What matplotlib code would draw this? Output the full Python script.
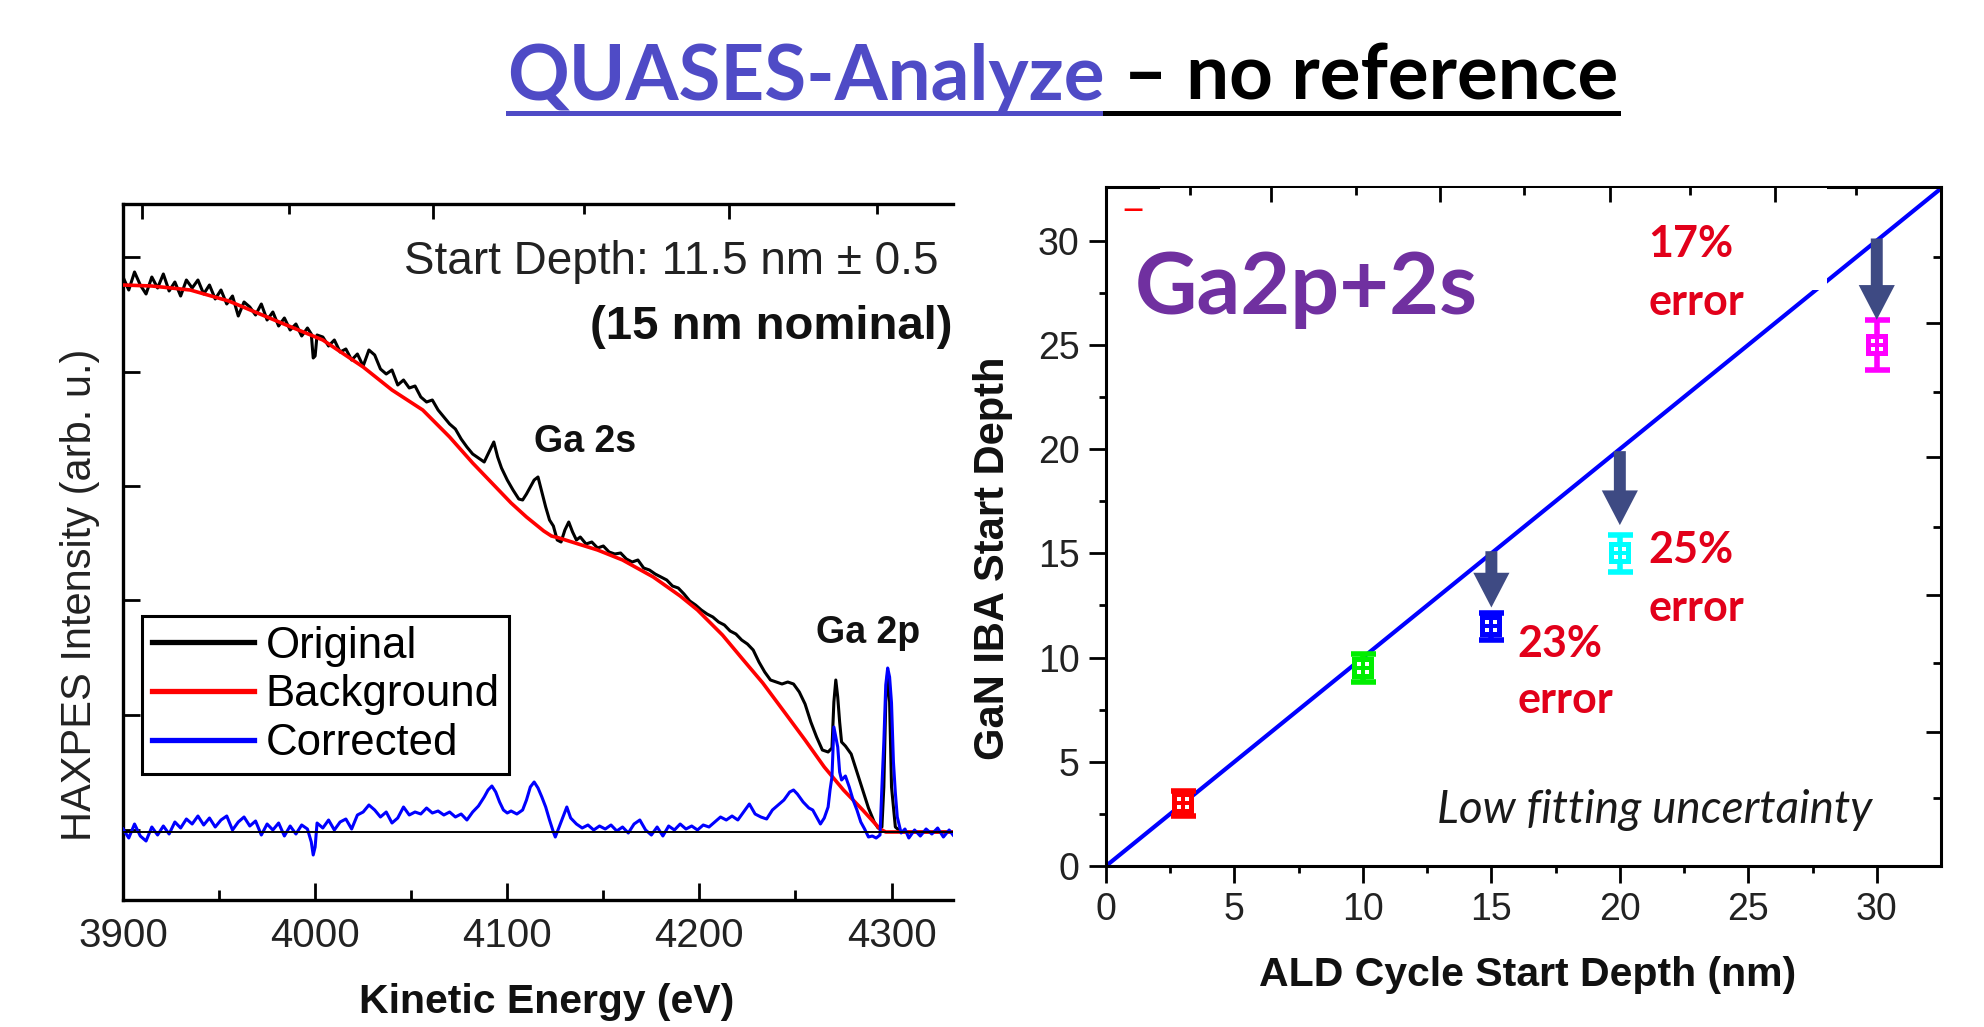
import matplotlib
matplotlib.use('Agg')
import matplotlib.pyplot as plt
from matplotlib.lines import Line2D
from matplotlib.patches import Rectangle, FancyArrowPatch, ArrowStyle
from matplotlib.path import Path
from matplotlib.transforms import Affine2D

SANS = ['Liberation Sans', 'DejaVu Sans']
SLIDE = ['Lato', 'DejaVu Sans']

# ---- left panel: HAXPES spectrum (arb. units, baseline = 0) ----
bg_energy = [3900, 3915, 3935, 3955, 3970, 3985, 4004, 4025, 4040, 4056, 4070, 4082, 4095,
             4102, 4110, 4119, 4123, 4127, 4137, 4147, 4160, 4176, 4190, 4199, 4212, 4222,
             4233, 4245, 4255, 4265, 4275, 4285, 4294, 4297, 4332]
bg_counts = [5.47, 5.46, 5.42, 5.31, 5.19, 5.07, 4.92, 4.65, 4.42, 4.22, 3.95, 3.69, 3.43,
             3.29, 3.15, 3.01, 2.96, 2.94, 2.88, 2.82, 2.72, 2.55, 2.36, 2.22, 1.97, 1.74,
             1.49, 1.18, 0.92, 0.65, 0.42, 0.22, 0.03, 0.0, 0.0]

orig_energy = [3900, 3903, 3906, 3909, 3912, 3915, 3918, 3921, 3924, 3927, 3930, 3933, 3936,
               3939, 3942, 3945, 3948, 3951, 3954, 3957, 3960, 3963, 3966, 3969, 3972, 3975,
               3978, 3981, 3984, 3987, 3990, 3993, 3996, 3998, 3999, 4000, 4001, 4004, 4007,
               4010, 4013, 4016, 4019, 4022, 4025, 4028, 4031, 4034, 4037, 4040, 4043, 4046,
               4049, 4052, 4055, 4058, 4061, 4064, 4067, 4070, 4073, 4076, 4079, 4082, 4085,
               4088, 4090, 4092, 4093, 4095, 4097, 4100, 4103, 4106, 4108, 4110, 4112, 4114,
               4116, 4118, 4120, 4122, 4124, 4126, 4128, 4130, 4132, 4134, 4136, 4138, 4141,
               4144, 4147, 4150, 4153, 4156, 4159, 4162, 4165, 4168, 4171, 4174, 4177, 4180,
               4183, 4186, 4189, 4192, 4195, 4198, 4201, 4204, 4207, 4210, 4213, 4216, 4219,
               4222, 4225, 4228, 4231, 4234, 4237, 4240, 4243, 4246, 4249, 4252, 4255, 4258,
               4261, 4264, 4267, 4269, 4270, 4271, 4272, 4273, 4274, 4276, 4279, 4282, 4285,
               4288, 4291, 4293, 4295, 4296, 4297, 4298, 4299, 4300, 4302, 4305, 4332]
orig_counts = [5.55, 5.42, 5.60, 5.47, 5.38, 5.55, 5.44, 5.58, 5.41, 5.50, 5.36, 5.52, 5.44,
               5.52, 5.38, 5.47, 5.33, 5.42, 5.28, 5.36, 5.16, 5.30, 5.25, 5.17, 5.28, 5.12,
               5.20, 5.06, 5.14, 5.02, 5.08, 4.96, 5.04, 4.98, 4.74, 4.76, 4.97, 4.95, 4.86,
               4.92, 4.80, 4.83, 4.72, 4.78, 4.66, 4.82, 4.77, 4.63, 4.58, 4.62, 4.47, 4.52,
               4.44, 4.46, 4.35, 4.30, 4.32, 4.22, 4.15, 4.08, 4.03, 3.93, 3.85, 3.78, 3.74,
               3.70, 3.78, 3.86, 3.90, 3.75, 3.64, 3.52, 3.42, 3.33, 3.32, 3.38, 3.45, 3.52,
               3.55, 3.40, 3.25, 3.12, 3.06, 2.92, 2.90, 3.02, 3.10, 3.00, 2.92, 2.95, 2.88,
               2.90, 2.84, 2.86, 2.80, 2.78, 2.79, 2.73, 2.70, 2.72, 2.64, 2.62, 2.58, 2.55,
               2.52, 2.46, 2.44, 2.38, 2.31, 2.27, 2.22, 2.18, 2.15, 2.10, 2.07, 2.01, 1.98,
               1.92, 1.88, 1.82, 1.70, 1.60, 1.52, 1.50, 1.48, 1.50, 1.48, 1.40, 1.28, 1.10,
               0.95, 0.82, 0.80, 0.84, 1.30, 1.52, 1.35, 1.10, 0.90, 0.86, 0.78, 0.60, 0.42,
               0.24, 0.10, 0.04, 0.05, 0.45, 1.30, 1.60, 1.30, 0.45, 0.05, 0.0, 0.0]

corr_energy = [3900, 3903, 3906, 3909, 3912, 3915, 3918, 3921, 3924, 3927, 3930, 3933, 3936,
               3939, 3942, 3945, 3948, 3951, 3954, 3957, 3960, 3963, 3966, 3969, 3972, 3975,
               3978, 3981, 3984, 3987, 3990, 3993, 3996, 3998, 3999, 4000, 4001, 4004, 4007,
               4010, 4013, 4016, 4019, 4022, 4025, 4028, 4031, 4034, 4037, 4040, 4043, 4046,
               4049, 4052, 4055, 4058, 4061, 4064, 4067, 4070, 4073, 4076, 4079, 4082, 4085,
               4088, 4090, 4092, 4094, 4096, 4098, 4100, 4102, 4105, 4108, 4110, 4112, 4114,
               4116, 4118, 4120, 4122, 4124, 4125, 4127, 4129, 4131, 4133, 4136, 4139, 4142,
               4145, 4148, 4151, 4154, 4157, 4160, 4163, 4166, 4169, 4172, 4175, 4178, 4181,
               4184, 4187, 4190, 4193, 4196, 4199, 4202, 4205, 4208, 4211, 4214, 4217, 4220,
               4223, 4226, 4229, 4232, 4235, 4238, 4241, 4244, 4247, 4249, 4251, 4254, 4257,
               4259, 4261, 4263, 4265, 4267, 4268, 4269, 4270, 4271, 4272, 4273, 4274, 4276,
               4278, 4280, 4282, 4284, 4286, 4288, 4290, 4292, 4294, 4295, 4296, 4297, 4298,
               4299, 4300, 4301, 4302, 4303, 4305, 4307, 4309, 4312, 4315, 4318, 4321, 4324,
               4327, 4330, 4332]
corr_counts = [0.03, -0.06, 0.08, -0.04, -0.09, 0.05, -0.03, 0.06, -0.02, 0.10, 0.04, 0.13, 0.08,
               0.16, 0.07, 0.14, 0.05, 0.12, 0.16, 0.02, 0.10, 0.15, 0.06, 0.11, -0.03, 0.08,
               0.02, 0.09, -0.04, 0.06, -0.02, 0.07, 0.03, -0.10, -0.23, -0.15, 0.09, 0.04, 0.12,
               0.02, 0.10, 0.13, 0.03, 0.17, 0.20, 0.27, 0.22, 0.15, 0.20, 0.09, 0.14, 0.25,
               0.17, 0.20, 0.18, 0.24, 0.19, 0.21, 0.17, 0.20, 0.15, 0.18, 0.12, 0.20, 0.26,
               0.35, 0.42, 0.46, 0.40, 0.30, 0.22, 0.19, 0.21, 0.18, 0.22, 0.32, 0.45, 0.50,
               0.44, 0.35, 0.25, 0.12, 0.00, -0.05, 0.05, 0.15, 0.25, 0.14, 0.08, 0.04, 0.07,
               0.02, 0.06, 0.03, 0.07, 0.01, 0.05, -0.01, 0.08, 0.12, 0.02, -0.03, 0.05, -0.04,
               0.06, 0.02, 0.08, 0.03, 0.06, 0.02, 0.07, 0.05, 0.10, 0.15, 0.12, 0.16, 0.12,
               0.20, 0.28, 0.18, 0.15, 0.13, 0.22, 0.27, 0.32, 0.40, 0.42, 0.38, 0.30, 0.24,
               0.22, 0.15, 0.08, 0.14, 0.25, 0.42, 0.55, 1.05, 0.95, 0.85, 0.60, 0.52, 0.56,
               0.45, 0.32, 0.22, 0.10, 0.03, -0.05, -0.04, -0.06, -0.03, 0.45, 0.90, 1.47, 1.64,
               1.55, 1.29, 0.70, 0.39, 0.15, -0.01, 0.03, -0.06, 0.02, -0.04, 0.03, -0.02, 0.04,
               -0.05, 0.02, -0.03]

spec_xticks = [3900, 4000, 4100, 4200, 4300]
spec_xminor = [3950, 4050, 4150, 4250]
spec_yticks = [5.75, 4.60, 3.46, 2.32, 1.17, 0.02]
spec_top_major = [3910, 4061.5, 4215.6]
spec_top_minor = [3986.5, 4140, 4292.7]

# ---- right panel: start depth comparison ----
ald_depth = [3, 10, 15, 20, 30]
iba_depth = [3.0, 9.5, 11.5, 15.0, 25.0]
iba_err = [0.6, 0.65, 0.65, 0.9, 1.2]
point_colors = ['#ff0000', '#00ee00', '#0000ff', '#00ffff', '#ff00ff']
ideal = [0, 32.5]
arrow_x = [15, 20, 30]
arrow_from = [15.1, 19.9, 30.1]
arrow_to = [12.4, 16.35, 26.2]
err_text = ['23%', '25%', '17%']
err_x = [16.0, 21.1, 21.1]
err_y = [10.02, 14.53, 29.2]
err_y2 = [7.34, 11.75, 26.43]
sec_major = [6.43, 13.0, 19.62, 26.04]
sec_minor = [3.26, 9.74, 16.26, 22.73, 29.2]

W, H = 1984, 1027


def fx(x):
    return x / W


def fy(y):
    return 1 - y / H


fig = plt.figure(figsize=(W / 100, H / 100), dpi=100)

# ================= left panel =================
ax = fig.add_axes([fx(123), fy(900), (953 - 123) / W, (900 - 204) / H])
ax.plot(orig_energy, orig_counts, color='black', lw=2.2, zorder=3)
ax.plot(bg_energy, bg_counts, color='#ff0000', lw=2.6, zorder=4)
ax.plot(corr_energy, corr_counts, color='#0000ff', lw=2.2, zorder=5)
ax.axhline(0, color='black', lw=1.4, zorder=6)
ax.set_xlim(3900, 4332)
ax.set_ylim(-0.68, 6.28)
ax.spines['right'].set_visible(False)
for s in ['left', 'bottom', 'top']:
    ax.spines[s].set_linewidth(2.4)
ax.set_xticks(spec_xticks)
ax.set_xticks(spec_xminor, minor=True)
ax.set_yticks(spec_yticks)
ax.tick_params(axis='both', which='major', direction='in', length=12, width=2,
               labelsize=29, pad=12, labelleft=False, top=False, right=False)
ax.tick_params(axis='both', which='minor', direction='in', length=7, width=2,
               top=False, right=False)
for lab in ax.get_xticklabels():
    lab.set_family(SANS)
    lab.set_color('#222222')

axt = ax.twiny()
axt.set_xlim(ax.get_xlim())
axt.set_xticks(spec_top_major)
axt.set_xticks(spec_top_minor, minor=True)
axt.tick_params(axis='x', which='major', direction='in', length=11, width=2, labeltop=False)
axt.tick_params(axis='x', which='minor', direction='in', length=7, width=2)
for s in axt.spines.values():
    s.set_visible(False)

handles = [Line2D([], [], color='black', lw=3.8),
           Line2D([], [], color='#ff0000', lw=3.8),
           Line2D([], [], color='#0000ff', lw=3.8)]
leg = ax.legend(handles, ['Original', 'Background', 'Corrected'], loc='upper left',
                bbox_to_anchor=((142 - 123) / 830, (900 - 616) / 696), borderaxespad=0,
                fancybox=False, edgecolor='black', framealpha=1,
                prop={'family': SANS, 'size': 31.5}, handlelength=2.35, handletextpad=0.25,
                labelspacing=0.18, borderpad=0.22)
leg.get_frame().set_linewidth(2.2)
leg.set_zorder(10)

ax.text(4324.5, 5.70, 'Start Depth: 11.5 nm \u00b1 0.5', ha='right', va='center',
        fontsize=33, family=SANS, color='#222222')
ax.text(4332, 5.05, '(15 nm nominal)', ha='right', va='center', fontsize=34,
        fontweight='bold', family=SANS, color='#111111')
ax.text(4140.6, 3.90, 'Ga 2s', ha='center', va='center', fontsize=27,
        fontweight='bold', family=SANS, color='#111111')
ax.text(4288, 1.99, 'Ga 2p', ha='center', va='center', fontsize=27,
        fontweight='bold', family=SANS, color='#111111')

fig.text(fx(80), fy(595), 'HAXPES Intensity (arb. u.)', rotation=90, ha='center',
         va='center', fontsize=30, family=SANS, color='#222222')
fig.text(fx(547), fy(1002), 'Kinetic Energy (eV)', ha='center', va='center',
         fontsize=29.5, fontweight='bold', family=SANS, color='#111111')

# ================= right panel =================
bx = fig.add_axes([fx(1106), fy(866), (1941 - 1106) / W, (866 - 187) / H])
bx.plot(ideal, ideal, color='#0000ff', lw=3, zorder=2, solid_capstyle='butt')

dot = Path.unit_rectangle()
dot_parts = [dot.transformed(Affine2D().translate(-0.5, -0.5).scale(0.22).translate(dx, dy))
             for dx in (-0.2, 0.2) for dy in (-0.2, 0.2)]
dots_marker = Path.make_compound_path(*dot_parts)

for x, y, e, c in zip(ald_depth, iba_depth, iba_err, point_colors):
    bx.errorbar([x], [y], yerr=[e], fmt='none', ecolor=c, elinewidth=4, capsize=9,
                capthick=4, zorder=5)
    bx.plot([x], [y], marker='s', ms=16.5, color=c, mew=0, ls='none', zorder=6)
    bx.plot([x], [y], marker=dots_marker, ms=8.5, color='white', mew=0, ls='none', zorder=7)

for x, y0, y1 in zip(arrow_x, arrow_from, arrow_to):
    arr = FancyArrowPatch((x, y0), (x, y1),
                          arrowstyle=ArrowStyle('simple', head_length=25, head_width=26,
                                                tail_width=8.6),
                          mutation_scale=1, shrinkA=0, shrinkB=0, color='#3E4A83', lw=0,
                          zorder=8)
    bx.add_patch(arr)

bx.set_xlim(0, 32.5)
bx.set_ylim(0, 32.57)
for s in bx.spines.values():
    s.set_linewidth(2.2)
bx.set_xticks([0, 5, 10, 15, 20, 25, 30])
bx.set_yticks([0, 5, 10, 15, 20, 25, 30])
bx.set_xticks([2.5, 7.5, 12.5, 17.5, 22.5, 27.5], minor=True)
bx.set_yticks([2.5, 7.5, 12.5, 17.5, 22.5, 27.5], minor=True)
bx.tick_params(axis='both', which='major', direction='out', length=12, width=2,
               labelsize=27, pad=7, labelcolor='#222222')
bx.tick_params(axis='both', which='minor', direction='out', length=5, width=2)
for lab in bx.get_xticklabels() + bx.get_yticklabels():
    lab.set_family(SANS)

bxr = bx.twinx()
bxr.set_ylim(bx.get_ylim())
bxr.set_yticks(sec_major)
bxr.set_yticks(sec_minor, minor=True)
bxr.tick_params(axis='y', which='major', direction='in', length=11, width=2, labelright=False)
bxr.tick_params(axis='y', which='minor', direction='in', length=6, width=2)
for s in bxr.spines.values():
    s.set_visible(False)

bxt = bx.twiny()
bxt.set_xlim(bx.get_xlim())
bxt.set_xticks(sec_major)
bxt.set_xticks(sec_minor, minor=True)
bxt.tick_params(axis='x', which='major', direction='in', length=11, width=2, labeltop=False)
bxt.tick_params(axis='x', which='minor', direction='in', length=6, width=2)
for s in bxt.spines.values():
    s.set_visible(False)

# white box that hides part of the line/top frame (pasted label background)
bx.add_patch(Rectangle((2.1, 27.63), 25.95, 4.9, facecolor='white', edgecolor='none',
                       zorder=3, clip_on=False))

bx.text(1.13, 26.5, 'Ga2p+2s', fontsize=62, fontweight='bold', family=SLIDE,
        color='#7030A0', va='baseline', ha='left', zorder=9)
bx.text(0.62, 31.1, '\u2014', fontsize=19, fontweight='bold', family=SLIDE,
        color='#ff0000', va='baseline', ha='left', zorder=9)
for t, x, y, y2 in zip(err_text, err_x, err_y, err_y2):
    bx.text(x, y, t, fontsize=31, fontweight='bold', family=SLIDE, color='#E2001A',
            va='baseline', ha='left', zorder=9)
    bx.text(x, y2, 'error', fontsize=31, fontweight='bold', family=SLIDE, color='#E2001A',
            va='baseline', ha='left', zorder=9)
bx.text(12.9, 2.06, 'Low fitting uncertainty', fontsize=33, style='italic', family=SLIDE,
        color='#1a1a1a', va='baseline', ha='left', zorder=9)

fig.text(fx(993), fy(558), 'GaN IBA Start Depth', rotation=90, ha='center', va='center',
         fontsize=30, fontweight='bold', family=SANS, color='#111111')
fig.text(fx(1528), fy(975), 'ALD Cycle Start Depth (nm)', ha='center', va='center',
         fontsize=29.5, fontweight='bold', family=SANS, color='#111111')

# ================= title =================
TITLE_BLUE = '#4F4BC6'
t1 = fig.text(0, fy(100), 'QUASES-Analyze', color=TITLE_BLUE, fontsize=55,
              fontweight='bold', family=SLIDE, va='baseline', ha='left')
t2 = fig.text(0, fy(100), ' \u2013 no reference', color='black', fontsize=55,
              fontweight='bold', family=SLIDE, va='baseline', ha='left')
fig.canvas.draw()
r = fig.canvas.get_renderer()
w1 = t1.get_window_extent(r).width
w2 = t2.get_window_extent(r).width
x0 = 1063 - (w1 + w2) / 2
t1.set_x(fx(x0))
t2.set_x(fx(x0 + w1))
fig.add_artist(Line2D([fx(x0), fx(x0 + w1)], [fy(113)] * 2, color=TITLE_BLUE, lw=3.6))
fig.add_artist(Line2D([fx(x0 + w1), fx(x0 + w1 + w2)], [fy(113)] * 2, color='black',
                      lw=3.6))

fig.savefig('out.png', dpi=100)
